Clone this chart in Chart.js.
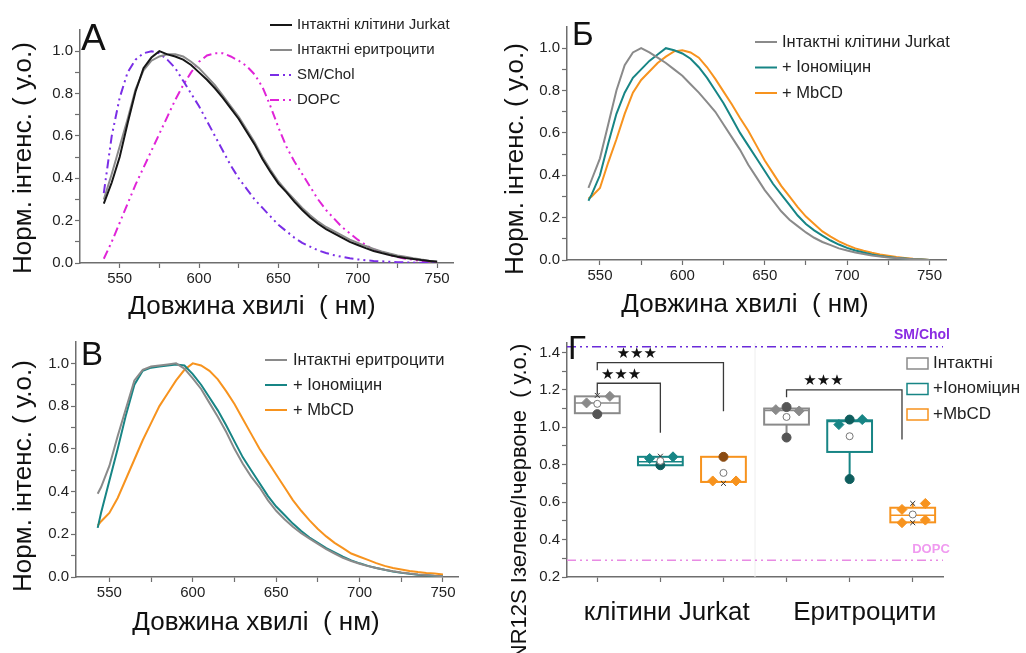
<!DOCTYPE html>
<html>
<head>
<meta charset="utf-8">
<script src="https://cdn.jsdelivr.net/npm/chart.js@4.4.1/dist/chart.umd.min.js"></script>
<style>
  html, body { margin: 0; padding: 0; background: #fff; }
  #wrap { position: relative; width: 1026px; height: 653px; overflow: hidden; }
  canvas { position: absolute; }
</style>
</head>
<body>
<div id="wrap">
  <canvas id="cA" width="505" height="330" style="left:0;top:0"></canvas>
  <canvas id="cB" width="526" height="330" style="left:500px;top:0"></canvas>
  <canvas id="cC" width="505" height="328" style="left:0;top:325px"></canvas>
  <canvas id="cD" width="526" height="333" style="left:500px;top:320px"></canvas>
</div>
<script>
/**
 * Data
 */
// wavelength grids, nm
const wlA = [540, 545, 550, 555, 560, 565, 570, 575, 580, 585, 590, 595, 600, 605, 610, 615, 620, 625, 630, 635, 640, 645, 650, 655, 660, 665, 670, 675, 680, 685, 690, 695, 700, 705, 710, 715, 720, 725, 730, 735, 740, 745, 750];
const wlB = [543, 545, 550, 555, 560, 565, 570, 575, 580, 585, 590, 595, 600, 605, 610, 615, 620, 625, 630, 635, 640, 645, 650, 655, 660, 665, 670, 675, 680, 685, 690, 695, 700, 705, 710, 715, 720, 725, 730, 735, 740, 745, 750];

// panel A
const jurkatA = [0.28, 0.38, 0.50, 0.66, 0.81, 0.92, 0.97, 1.0, 0.985, 0.975, 0.96, 0.935, 0.9, 0.865, 0.825, 0.78, 0.73, 0.68, 0.62, 0.56, 0.49, 0.43, 0.375, 0.335, 0.29, 0.25, 0.215, 0.185, 0.16, 0.14, 0.12, 0.1, 0.085, 0.07, 0.057, 0.047, 0.038, 0.03, 0.024, 0.019, 0.014, 0.01, 0.006];
const erythA = [0.3, 0.42, 0.55, 0.68, 0.82, 0.91, 0.955, 0.975, 0.985, 0.985, 0.975, 0.95, 0.92, 0.88, 0.84, 0.79, 0.74, 0.69, 0.63, 0.57, 0.5, 0.44, 0.385, 0.34, 0.3, 0.26, 0.225, 0.195, 0.17, 0.15, 0.13, 0.11, 0.095, 0.08, 0.066, 0.055, 0.045, 0.036, 0.029, 0.022, 0.016, 0.011, 0.007];
const smCholA = [0.33, 0.6, 0.78, 0.9, 0.96, 0.99, 1.0, 0.99, 0.96, 0.92, 0.86, 0.8, 0.74, 0.67, 0.6, 0.53, 0.46, 0.4, 0.35, 0.3, 0.26, 0.22, 0.18, 0.15, 0.12, 0.095, 0.077, 0.06, 0.047, 0.037, 0.029, 0.022, 0.017, 0.013, 0.01, 0.008, 0.006, 0.004, 0.003, 0.002, 0.001, 0.001, 0];
const dopcA = [0.02, 0.1, 0.19, 0.28, 0.37, 0.45, 0.53, 0.61, 0.69, 0.77, 0.84, 0.9, 0.95, 0.98, 0.99, 0.99, 0.975, 0.955, 0.93, 0.89, 0.83, 0.74, 0.64, 0.55, 0.48, 0.42, 0.36, 0.3, 0.25, 0.21, 0.17, 0.14, 0.11, 0.085, 0.065, 0.05, 0.038, 0.028, 0.02, 0.015, 0.01, 0.007, 0.005];

// panel Б (Jurkat)
const jurkatB = [0.34, 0.38, 0.48, 0.64, 0.8, 0.92, 0.98, 1.0, 0.98, 0.955, 0.93, 0.9, 0.87, 0.83, 0.79, 0.745, 0.7, 0.64, 0.58, 0.52, 0.45, 0.39, 0.33, 0.28, 0.23, 0.19, 0.16, 0.13, 0.105, 0.085, 0.07, 0.055, 0.045, 0.035, 0.028, 0.021, 0.016, 0.012, 0.009, 0.006, 0.004, 0.002, 0];
const ionoB = [0.28, 0.31, 0.4, 0.55, 0.69, 0.79, 0.86, 0.9, 0.94, 0.97, 1.0, 0.99, 0.975, 0.95, 0.91, 0.86, 0.8, 0.74, 0.67, 0.6, 0.54, 0.48, 0.42, 0.36, 0.31, 0.26, 0.21, 0.17, 0.14, 0.115, 0.092, 0.073, 0.057, 0.045, 0.035, 0.026, 0.019, 0.014, 0.01, 0.007, 0.004, 0.002, 0];
const mbcdB = [0.29, 0.3, 0.34, 0.46, 0.57, 0.69, 0.79, 0.85, 0.89, 0.93, 0.96, 0.985, 0.99, 0.98, 0.955, 0.91, 0.855, 0.795, 0.735, 0.67, 0.61, 0.54, 0.47, 0.41, 0.35, 0.3, 0.25, 0.205, 0.17, 0.135, 0.11, 0.088, 0.07, 0.055, 0.044, 0.034, 0.026, 0.02, 0.014, 0.01, 0.006, 0.003, 0];

// panel В (erythrocytes)
const erythC = [0.39, 0.42, 0.52, 0.66, 0.79, 0.92, 0.97, 0.985, 0.99, 0.995, 1.0, 0.975, 0.93, 0.88, 0.815, 0.75, 0.68, 0.6, 0.53, 0.47, 0.42, 0.36, 0.31, 0.27, 0.235, 0.205, 0.18, 0.155, 0.13, 0.11, 0.09, 0.075, 0.062, 0.051, 0.042, 0.034, 0.027, 0.021, 0.016, 0.012, 0.009, 0.006, 0.004];
const ionoC = [0.23, 0.3, 0.45, 0.6, 0.76, 0.9, 0.965, 0.98, 0.985, 0.99, 0.995, 0.99, 0.95, 0.9, 0.84, 0.78, 0.71, 0.635, 0.56, 0.5, 0.44, 0.38, 0.33, 0.29, 0.25, 0.215, 0.185, 0.16, 0.135, 0.115, 0.095, 0.078, 0.064, 0.052, 0.042, 0.034, 0.026, 0.02, 0.015, 0.011, 0.008, 0.005, 0.003];
const mbcdC = [0.24, 0.26, 0.3, 0.37, 0.46, 0.55, 0.64, 0.72, 0.8, 0.86, 0.92, 0.97, 1.0, 0.99, 0.965, 0.925, 0.87, 0.81, 0.74, 0.67, 0.6, 0.54, 0.48, 0.42, 0.36, 0.31, 0.265, 0.225, 0.19, 0.16, 0.135, 0.11, 0.095, 0.08, 0.065, 0.052, 0.042, 0.035, 0.028, 0.023, 0.019, 0.016, 0.012];

// panel Г: box chart of NR12S ratio
const boxPos = [1, 2, 3, 4, 5, 6];
const cond = [0, 1, 2, 0, 1, 2];
const condNames = ["Інтактні", "+Іономіцин", "+MbCD"];
const groupNames = ["клітини Jurkat", "Еритроцити"];
const q1 = [1.075, 0.797, 0.708, 1.014, 0.868, 0.492];
const q3 = [1.165, 0.842, 0.842, 1.100, 1.037, 0.570];
const med = [1.13, 0.815, 0.708, 1.09, 1.03, 0.53];
const mean = [1.125, 0.82, 0.756, 1.055, 0.952, 0.534];
const whLo = [1.07, 0.797, 0.708, 0.945, 0.723, 0.49];
const whHi = [1.17, 0.842, 0.842, 1.108, 1.041, 0.593];
const ptsL = [1.13, 0.833, 0.713, 1.094, 1.014, 0.561];
const ptsC = [1.07, 0.797, 0.842, 1.108, 1.041, null];
const ptsR = [1.165, 0.842, 0.713, 1.087, 1.041, 0.593];
const ptsLow = [null, null, null, 0.945, 0.723, null];
const ptsL2 = [null, null, null, null, null, 0.49];
const ptsR2 = [null, null, null, null, null, 0.504];
const extHi = [1.17, 0.845, null, null, null, 0.593];
const extLo = [null, null, 0.70, null, null, 0.49];
const smCholRatio = 1.43;
const dopcRatio = 0.29;
// significance brackets: from box, to box, top level, leg ends
const brFrom = [1, 1, 4];
const brTo = [2, 3, 5.83];
const brTop = [1.235, 1.345, 1.2];
const brEndFrom = [1.176, 1.304, 1.16];
const brEndTo = [0.97, 1.085, 0.935];
const brStars = ["★★★", "★★★", "★★★"];

// tick values
const nmTicks = [550, 575, 600, 625, 650, 675, 700, 725, 750];
const intTicks = [0, 0.1, 0.2, 0.3, 0.4, 0.5, 0.6, 0.7, 0.8, 0.9, 1.0];
const ratioTicks = [0.2, 0.3, 0.4, 0.5, 0.6, 0.7, 0.8, 0.9, 1.0, 1.1, 1.2, 1.3, 1.4];

/**
 * Styles
 */
const FONT = "'Liberation Sans', Arial, sans-serif";
const AXIS = "#6e6e6e";
const BLACK = "#161616";
const GRAY = "#8a8a8a";
const TEAL = "#178585";
const ORANGE = "#f7931e";
const VIOLET = "#7a2ee6";
const MAGENTA = "#e024d8";
const DASH = [9, 4, 2, 4, 2, 4];
const condColor = [GRAY, TEAL, ORANGE];
const condDark = ["#555555", "#0e5d5d", "#8a4b12"];

Chart.defaults.font.family = FONT;

const xy = function (wl, ys) {
  return ys.map((y, i) => ({ x: wl[i], y: y }));
};

const label1 = (v) => (Math.round(v * 10) % 2 === 0 ? v.toFixed(1) : "");

const baseAxis = function (size) {
  return {
    border: { color: AXIS, width: 1.5 },
    grid: { drawOnChartArea: false, drawTicks: true, tickLength: 5, tickColor: AXIS, tickWidth: 1.2 },
    ticks: { color: "#222", font: { size: size || 15 }, padding: 2, autoSkip: false, maxRotation: 0 },
  };
};

const axisX = function (min, max, h) {
  const ax = baseAxis();
  ax.type = "linear";
  ax.min = min;
  ax.max = max;
  ax.afterBuildTicks = (s) => { s.ticks = nmTicks.map((v) => ({ value: v })); };
  ax.ticks.callback = (v) => (v % 50 === 0 ? String(v) : "");
  ax.afterFit = (s) => { s.height = h; };
  return ax;
};

const axisY = function (min, max, w, ticks) {
  const ax = baseAxis();
  ax.min = min;
  ax.max = max;
  ax.afterBuildTicks = (s) => { s.ticks = ticks.map((v) => ({ value: v })); };
  ax.ticks.callback = label1;
  ax.afterFit = (s) => { s.width = w; };
  return ax;
};

/**
 * Letter, axis titles and line legend drawn on the canvas
 */
const frame = {
  id: "frame",
  afterDraw(chart, args, o) {
    const ctx = chart.ctx;
    ctx.save();
    ctx.fillStyle = "#111";
    if (o.letter) {
      ctx.font = o.letter.size + "px " + FONT;
      ctx.textAlign = "left";
      ctx.textBaseline = "alphabetic";
      ctx.fillText(o.letter.text, o.letter.x, o.letter.y);
    }
    ctx.textAlign = "center";
    ctx.textBaseline = "middle";
    if (o.xTitle) {
      ctx.font = o.xTitle.size + "px " + FONT;
      ctx.fillText(o.xTitle.text, o.xTitle.x, o.xTitle.y);
    }
    if (o.yTitle) {
      ctx.save();
      ctx.translate(o.yTitle.x, o.yTitle.y);
      ctx.rotate(-Math.PI / 2);
      ctx.font = o.yTitle.size + "px " + FONT;
      ctx.fillText(o.yTitle.text, 0, 0);
      ctx.restore();
    }
    if (o.legend) {
      const L = o.legend;
      ctx.font = L.size + "px " + FONT;
      ctx.textAlign = "left";
      chart.data.datasets.forEach((ds, i) => {
        const y = L.y + i * L.dy;
        ctx.strokeStyle = ds.borderColor;
        ctx.lineWidth = 2;
        ctx.setLineDash(ds.borderDash || []);
        ctx.beginPath();
        ctx.moveTo(L.x, y);
        ctx.lineTo(L.x + L.len, y);
        ctx.stroke();
        ctx.setLineDash([]);
        ctx.fillStyle = "#222";
        ctx.fillText(ds.label, L.x + L.len + L.gap, y);
      });
    }
    ctx.restore();
  },
};

const spectrum = function (id, wl, series, xr, box, fr) {
  return new Chart(document.getElementById(id), {
    type: "line",
    data: {
      datasets: series.map((s) => ({
        label: s.label,
        data: xy(wl, s.values),
        borderColor: s.color,
        borderWidth: 2,
        borderDash: s.dash || [],
        pointRadius: 0,
        tension: 0,
        fill: false,
      })),
    },
    options: {
      responsive: false,
      animation: false,
      layout: { padding: box.pad },
      plugins: { legend: { display: false }, tooltip: { enabled: false }, frame: fr },
      scales: {
        x: axisX(xr[0], xr[1], box.xh),
        y: axisY(0, 1.1, box.yw, intTicks),
      },
    },
    plugins: [frame],
  });
};

const X_TITLE = "Довжина хвилі  ( нм)";
const Y_TITLE = "Норм. інтенс. ( у.о.)";

// А
spectrum("cA", wlA, [
  { label: "Інтактні клітини Jurkat", values: jurkatA, color: BLACK },
  { label: "Інтактні еритроцити", values: erythA, color: GRAY },
  { label: "SM/Chol", values: smCholA, color: VIOLET, dash: DASH },
  { label: "DOPC", values: dopcA, color: MAGENTA, dash: DASH },
], [525, 760],
{ pad: { left: 0, top: 30, right: 52, bottom: 0 }, xh: 67, yw: 80 },
{
  letter: { text: "А", x: 81, y: 50, size: 37 },
  xTitle: { text: X_TITLE, x: 252, y: 307, size: 26 },
  yTitle: { text: Y_TITLE, x: 24, y: 158, size: 26 },
  legend: { x: 270, y: 25, dy: 25, len: 22, gap: 5, size: 15 },
});

// Б
spectrum("cB", wlB, [
  { label: "Інтактні клітини Jurkat", values: jurkatB, color: GRAY },
  { label: "+ Іономіцин", values: ionoB, color: TEAL },
  { label: "+ MbCD", values: mbcdB, color: ORANGE },
], [530, 760],
{ pad: { left: 0, top: 27, right: 80, bottom: 0 }, xh: 70, yw: 67 },
{
  letter: { text: "Б", x: 72, y: 45, size: 33 },
  xTitle: { text: X_TITLE, x: 245, y: 305, size: 26 },
  yTitle: { text: Y_TITLE, x: 16, y: 159, size: 26 },
  legend: { x: 255, y: 42, dy: 25.5, len: 22, gap: 5, size: 16.5 },
});

// В
spectrum("cC", wlB, [
  { label: "Інтактні еритроцити", values: erythC, color: GRAY },
  { label: "+ Іономіцин", values: ionoC, color: TEAL },
  { label: "+ MbCD", values: mbcdC, color: ORANGE },
], [530, 759],
{ pad: { left: 0, top: 17, right: 47, bottom: 0 }, xh: 76, yw: 76 },
{
  letter: { text: "В", x: 81, y: 40, size: 33 },
  xTitle: { text: X_TITLE, x: 256, y: 298, size: 26 },
  yTitle: { text: Y_TITLE, x: 24, y: 151, size: 26 },
  legend: { x: 265, y: 35, dy: 25, len: 22, gap: 6, size: 16.5 },
});

/**
 * Г: boxes, brackets and labels
 */
const BOX_W = 0.71;
const G_MIN = 0.52;
const G_MAX = 6.48;

const boxPlot = {
  id: "boxPlot",
  beforeDatasetsDraw(chart) {
    const ctx = chart.ctx;
    const x = chart.scales.x;
    const y = chart.scales.y;
    const a = chart.chartArea;
    ctx.save();
    // faint divider between the two groups
    const sx = x.getPixelForValue(3.5);
    ctx.strokeStyle = "#eeeeee";
    ctx.lineWidth = 1;
    ctx.beginPath();
    ctx.moveTo(sx, a.top);
    ctx.lineTo(sx, a.bottom);
    ctx.stroke();
    boxPos.forEach((p, i) => {
      const c = condColor[cond[i]];
      const cx = x.getPixelForValue(p);
      const half = (x.getPixelForValue(p + BOX_W / 2) - x.getPixelForValue(p - BOX_W / 2)) / 2;
      const yt = y.getPixelForValue(q3[i]);
      const yb = y.getPixelForValue(q1[i]);
      ctx.strokeStyle = c;
      ctx.lineWidth = 2;
      ctx.beginPath();
      ctx.moveTo(cx, yt);
      ctx.lineTo(cx, y.getPixelForValue(whHi[i]));
      ctx.moveTo(cx, yb);
      ctx.lineTo(cx, y.getPixelForValue(whLo[i]));
      ctx.stroke();
      ctx.fillStyle = "#fff";
      ctx.fillRect(cx - half, yt, 2 * half, yb - yt);
      ctx.strokeRect(cx - half, yt, 2 * half, yb - yt);
      const ym = y.getPixelForValue(med[i]);
      ctx.lineWidth = 1.5;
      ctx.beginPath();
      ctx.moveTo(cx - half, ym);
      ctx.lineTo(cx + half, ym);
      ctx.stroke();
    });
    ctx.restore();
  },
  afterDatasetsDraw(chart) {
    const ctx = chart.ctx;
    const x = chart.scales.x;
    const y = chart.scales.y;
    ctx.save();
    // brackets
    ctx.strokeStyle = "#3a3a3a";
    ctx.lineWidth = 1.3;
    brFrom.forEach((f, i) => {
      const x1 = x.getPixelForValue(f);
      const x2 = x.getPixelForValue(brTo[i]);
      const yt = y.getPixelForValue(brTop[i]);
      ctx.beginPath();
      ctx.moveTo(x1, y.getPixelForValue(brEndFrom[i]));
      ctx.lineTo(x1, yt);
      ctx.lineTo(x2, yt);
      ctx.lineTo(x2, y.getPixelForValue(brEndTo[i]));
      ctx.stroke();
      ctx.fillStyle = "#111";
      ctx.font = "15px 'DejaVu Sans'";
      ctx.textAlign = "center";
      ctx.textBaseline = "bottom";
      ctx.fillText(brStars[i], (x1 + (x1 + x2) / 2) / 2 + 8, yt - 1);
    });
    // reference labels
    ctx.font = "bold 14px " + FONT;
    ctx.textAlign = "center";
    ctx.textBaseline = "middle";
    ctx.fillStyle = "#8a2be2";
    ctx.fillText("SM/Chol", 422, 15);
    ctx.font = "bold 13px " + FONT;
    ctx.fillStyle = "#f09af0";
    ctx.fillText("DOPC", 431, 229);
    // group labels
    ctx.fillStyle = "#111";
    ctx.font = "26px " + FONT;
    ctx.fillText(groupNames[0], x.getPixelForValue(2.1), 293);
    ctx.fillText(groupNames[1], x.getPixelForValue(5.24), 293);
    // legend
    ctx.font = "17px " + FONT;
    ctx.textAlign = "left";
    condNames.forEach((n, i) => {
      const ly = 43 + i * 25.5;
      ctx.strokeStyle = condColor[i];
      ctx.lineWidth = 1.5;
      ctx.strokeRect(407, ly - 5, 21, 11);
      ctx.fillStyle = "#222";
      ctx.fillText(n, 433, ly);
    });
    ctx.restore();
  },
};

const slot = function (values, off, palette) {
  const data = [];
  const colors = [];
  values.forEach((v, i) => {
    if (v !== null) {
      data.push({ x: boxPos[i] + off, y: v });
      colors.push(palette[cond[i]]);
    }
  });
  return { data, colors };
};

const pointSet = function (values, off, palette, style, r) {
  const s = slot(values, off, palette);
  return {
    data: s.data,
    pointStyle: style,
    pointRadius: r,
    pointBackgroundColor: s.colors,
    pointBorderColor: s.colors,
    pointBorderWidth: 1,
    showLine: false,
  };
};

const meanSet = slot(mean, 0, condColor);
const refLine = function (v, color) {
  return {
    data: [{ x: G_MIN, y: v }, { x: G_MAX, y: v }],
    showLine: true,
    borderColor: color,
    borderWidth: 1.5,
    borderDash: DASH,
    pointRadius: 0,
  };
};

const yD = axisY(0.2, 1.45, 67, ratioTicks);
const xD = baseAxis();
xD.type = "linear";
xD.min = G_MIN;
xD.max = G_MAX;
xD.afterBuildTicks = (s) => { s.ticks = boxPos.map((v) => ({ value: v })); };
xD.ticks.callback = () => "";
xD.afterFit = (s) => { s.height = 76; };

new Chart(document.getElementById("cD"), {
  type: "scatter",
  data: {
    datasets: [
      {
        data: meanSet.data,
        pointStyle: "circle",
        pointRadius: 3.5,
        pointBackgroundColor: "#fff",
        pointBorderColor: "#777",
        pointBorderWidth: 1,
      },
      pointSet(extHi, 0, ["#333", "#333", "#333"], "crossRot", 3.5),
      pointSet(extLo, 0, ["#333", "#333", "#333"], "crossRot", 3.5),
      pointSet(ptsC, 0, condDark, "circle", 4.5),
      pointSet(ptsLow, 0, condDark, "circle", 4.5),
      pointSet(ptsL, -0.17, condColor, "rectRot", 5),
      pointSet(ptsR, 0.2, condColor, "rectRot", 5),
      pointSet(ptsL2, -0.17, condColor, "rectRot", 5),
      pointSet(ptsR2, 0.2, condColor, "rectRot", 5),
      refLine(smCholRatio, "#6a2bd9"),
      refLine(dopcRatio, "#e88be3"),
    ],
  },
  options: {
    responsive: false,
    animation: false,
    layout: { padding: { left: 0, top: 23, right: 83, bottom: 0 } },
    plugins: {
      legend: { display: false },
      tooltip: { enabled: false },
      frame: {
        letter: { text: "Г", x: 68, y: 39, size: 33 },
        yTitle: { text: "NR12S Ізелене/Ічервоне  ( у.о.)", x: 20, y: 182, size: 22 },
      },
    },
    scales: { x: xD, y: yD },
  },
  plugins: [boxPlot, frame],
});
</script>
</body>
</html>
